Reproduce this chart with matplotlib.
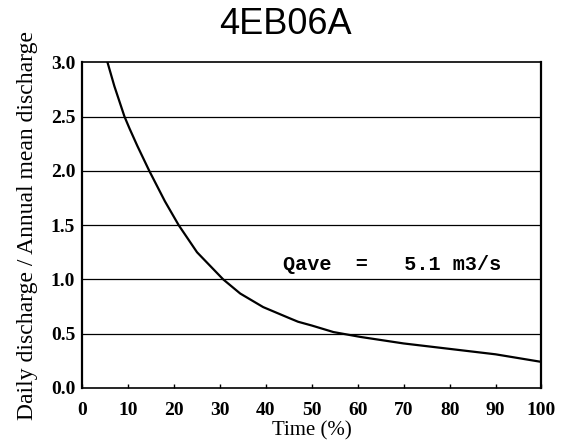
import matplotlib.pyplot as plt

# duration curve
time_pct = [5.5, 7, 9.2, 10.3, 12, 14.6, 18, 21, 25, 30.7, 34.4, 39.4, 45, 47, 50, 54.7, 60.6, 70, 80, 90, 100]
ratio = [3.0, 2.78, 2.5, 2.39, 2.23, 2.0, 1.72, 1.5, 1.25, 1.0, 0.87, 0.745, 0.645, 0.61, 0.575,
         0.515, 0.47, 0.41, 0.36, 0.31, 0.24]

x_ticks = [0, 10, 20, 30, 40, 50, 60, 70, 80, 90, 100]
y_ticks = [0.0, 0.5, 1.0, 1.5, 2.0, 2.5, 3.0]
title = "4EB06A"
note = "Qave  =   5.1 m3/s"

fig = plt.figure(figsize=(5.67, 4.48), dpi=100)
ax = fig.add_axes([0.145, 0.134, 0.81, 0.727])

ax.plot(time_pct, ratio, color="black", linewidth=1.6)

for y in y_ticks[1:-1]:
    ax.axhline(y, color="black", linewidth=0.9)

ax.set_xlim(0, 100)
ax.set_ylim(0, 3.0)
ax.set_xticks(x_ticks)
ax.set_yticks(y_ticks)
ax.set_yticklabels(["%.1f" % v for v in y_ticks])
ax.tick_params(axis="x", direction="in", length=3, width=1, pad=10)
ax.tick_params(axis="y", length=0, pad=5)
for lab in ax.get_xticklabels() + ax.get_yticklabels():
    lab.set_fontfamily("Liberation Serif")
    lab.set_fontweight("bold")
    lab.set_fontsize(14)

for side in ["left", "right", "top", "bottom"]:
    ax.spines[side].set_linewidth(1.6 if side in ("left", "right") else 1.2)

ax.set_xlabel("Time (%)", fontfamily="Liberation Serif", fontsize=15, labelpad=2)
ax.set_ylabel("Daily discharge / Annual mean discharge", fontfamily="Liberation Serif",
              fontsize=17, labelpad=9)

fig.text(0.503, 0.945, title, ha="center", va="center", fontfamily="Liberation Sans",
         fontsize=26)
ax.text(43.8, 1.14, note, ha="left", va="center", fontfamily="Liberation Mono",
        fontweight="bold", fontsize=14.5)

fig.savefig("out.png", dpi=100)
